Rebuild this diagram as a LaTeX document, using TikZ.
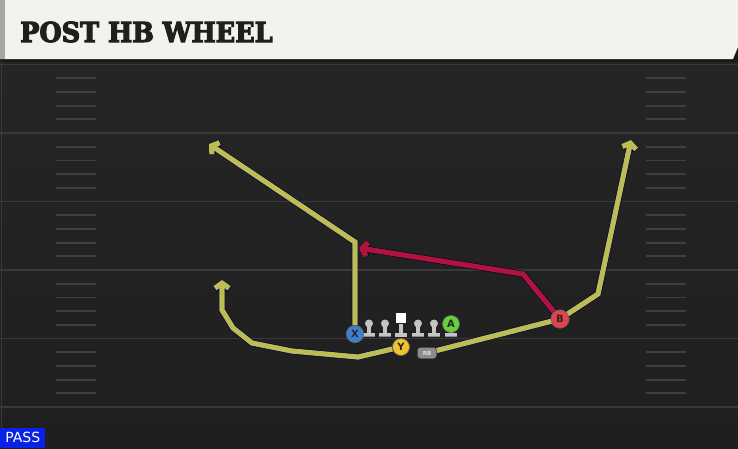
\documentclass[tikz,border=0pt]{standalone}
\usepackage{fontspec}
\newfontfamily\titlefont{DejaVu Serif}[BoldFeatures={FakeBold=4},FakeStretch=0.93]
\newfontfamily\labelfont{DejaVu Sans}
\usetikzlibrary{positioning,calc,arrows.meta}

\definecolor{fieldtop}{HTML}{262626}
\definecolor{fieldbot}{HTML}{1F1F1F}
\definecolor{fieldline}{HTML}{393939}
\definecolor{hashline}{HTML}{3F3F3F}
\definecolor{cream}{HTML}{F4F2EC}
\definecolor{routeyellow}{HTML}{BDBD55}
\definecolor{routered}{HTML}{B0143A}
\definecolor{xblue}{HTML}{3B7FD6}
\definecolor{yyellow}{HTML}{F3C22C}
\definecolor{agreen}{HTML}{66D13A}
\definecolor{bred}{HTML}{E8404A}
\definecolor{linegray}{HTML}{C4C4C4}
\definecolor{passblue}{HTML}{0A22E6}

\begin{document}
\begin{tikzpicture}[x=1pt,y=-1pt,
	player/.style={shape=circle,draw=black!60,line width=0.7pt,minimum size=17pt,inner sep=0pt,
		font=\labelfont\bfseries\fontsize{10}{10}\selectfont,text=black!85},
	route/.style={line width=5.2pt,preaction={draw=black!75!blue,line width=6.4pt}},
	hashmark/.style={draw=hashline,line width=1.8pt},
	yardline/.style={draw=fieldline,line width=1.8pt}]
	\useasboundingbox (0,0) rectangle (738,448);

	\shade[top color=fieldtop,bottom color=fieldbot] (0,0) rectangle (738,448);
	\draw[fieldline,line width=1.5pt] (1.5,62) -- (1.5,448);
	\foreach \k in {0,...,5}
		\draw[yardline] (0,64.5+68.5*\k) -- (738,64.5+68.5*\k);
	\foreach \k in {0,...,4}
		\foreach \j in {1,...,4} {
			\pgfmathsetmacro\yy{64.5+68.5*\k+13.7*\j}
			\draw[hashmark] (56,\yy) -- (96,\yy);
			\draw[hashmark] (646,\yy) -- (686,\yy);
		}

	\fill[black!90] (0,0) rectangle (738,62);
	\fill[cream] (0,0) -- (738,0) -- (738,47) -- (733,59) -- (0,59) -- cycle;
	\fill[black!35] (0,0) rectangle (4.5,59);
	\node[anchor=base west,inner sep=0pt,text=black!88,
		font=\titlefont\bfseries\fontsize{27.5}{27.5}\selectfont] (title) at (20,42) {POST HB WHEEL};

	\node[fill=passblue,anchor=south west,minimum width=45pt,minimum height=20pt,inner sep=0pt,
		text=white,font=\labelfont\fontsize{14}{14}\selectfont] (pass) at (0,448) {PASS};

	\node[player,fill=xblue] (x) at (355,334) {X};
	\node[player,fill=yyellow] (y) at (401,347) {Y};
	\node[player,fill=bred,minimum size=18pt] (b) at (560,319) {B};
	\node[shape=rectangle,rounded corners=3pt,fill=black!45,draw=black!70,minimum width=19pt,
		minimum height=11pt,inner sep=0pt,text=black!12,
		font=\labelfont\bfseries\fontsize{5.5}{5.5}\selectfont] (rb) at (427,353) {RB};

	\coordinate (xbreak) at (355,242);
	\coordinate (xend) at (209,144);
	\coordinate (yone) at (358,357);
	\coordinate (ytwo) at (292,351);
	\coordinate (ythree) at (252,343);
	\coordinate (yfour) at (233,328);
	\coordinate (yfive) at (222,310);
	\coordinate (yend) at (222,280);
	\coordinate (rbbend) at (598,294);
	\coordinate (rbend) at (631,140);
	\coordinate (redbend) at (523,274);
	\coordinate (redend) at (359,248);

	\begin{scope}[>={Straight Barb[length=5pt,width=14pt]}]
		\draw[route,routeyellow,->] (x) -- (xbreak) -- (xend);
		\draw[route,routeyellow,->] (y) -- (yone) -- (ytwo) -- (ythree) -- (yfour) -- (yfive) -- (yend);
		\draw[route,routeyellow] (rb) -- (b.center);
		\draw[route,routeyellow,->] (b.center) -- (rbbend) -- (rbend);
		\draw[route,routered,->] (b) -- (redbend) -- (redend);
	\end{scope}

	\foreach \name/\xx in {lt/369,lg/385,rg/418,rt/434,te/451} {
		\fill[linegray] (\xx-6,333) rectangle (\xx+6,336.5);
		\fill[linegray] (\xx-2,324) rectangle (\xx+2,333);
		\fill[black!45] (\xx-6,335.5) rectangle (\xx+6,336.5);
	}
	\foreach \name/\xx in {lt/369,lg/385,rg/418,rt/434}
		\node[shape=circle,fill=linegray,minimum size=8pt,inner sep=0pt] (\name) at (\xx,323.5) {};
	\fill[linegray] (399,324) rectangle (403,333);
	\fill[linegray] (395,333) rectangle (407,336.5);
	\node[shape=rectangle,fill=white,minimum size=10pt,inner sep=0pt] (c) at (401,318) {};

	\node[player,fill=agreen] (a) at (451,324) {A};
	\node[player,fill=xblue] at (x) {X};
	\node[player,fill=bred,minimum size=18pt] at (b) {B};
\end{tikzpicture}
\end{document}
